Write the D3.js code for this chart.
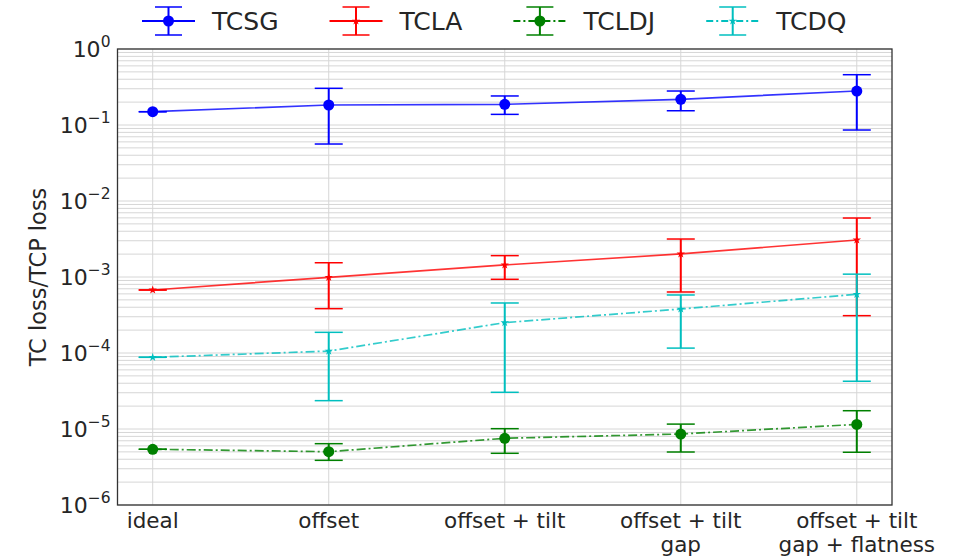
<!DOCTYPE html>
<html>
<head>
<meta charset="utf-8">
<script src="https://cdn.jsdelivr.net/npm/d3@7"></script>
<style>
  html, body { margin: 0; padding: 0; background: #fff; }
  svg { display: block; font-family: "DejaVu Sans", sans-serif; }
</style>
</head>
<body>
<svg id="chart" width="966" height="557"></svg>
<script>
// Scenarios along the x axis (multi-line labels)
const categories = [
  ["ideal"],
  ["offset"],
  ["offset + tilt"],
  ["offset + tilt", "gap"],
  ["offset + tilt", "gap + flatness"]
];

// Mean loss ratio per scenario, with lower / upper error bounds
const tcsgValues = [0.1496, 0.1833, 0.187, 0.218, 0.280];
const tcsgLow    = [0.1496, 0.0562, 0.138, 0.154, 0.0859];
const tcsgHigh   = [0.1496, 0.304, 0.241, 0.280, 0.459];

const tclaValues = [6.75e-4, 9.91e-4, 1.44e-3, 2.01e-3, 3.07e-3];
const tclaLow    = [6.75e-4, 3.83e-4, 9.33e-4, 6.35e-4, 3.10e-4];
const tclaHigh   = [6.75e-4, 1.54e-3, 1.91e-3, 3.16e-3, 5.97e-3];

const tcldjValues = [5.41e-6, 5.03e-6, 7.55e-6, 8.59e-6, 1.15e-5];
const tcldjLow    = [5.41e-6, 3.87e-6, 4.79e-6, 4.98e-6, 4.94e-6];
const tcldjHigh   = [5.41e-6, 6.41e-6, 1.01e-5, 1.16e-5, 1.74e-5];

const tcdqValues = [8.78e-5, 1.06e-4, 2.51e-4, 3.79e-4, 5.92e-4];
const tcdqLow    = [8.78e-5, 2.36e-5, 3.04e-5, 1.16e-4, 4.25e-5];
const tcdqHigh   = [8.78e-5, 1.87e-4, 4.55e-4, 5.80e-4, 1.09e-3];

const yTickExponents = [0, -1, -2, -3, -4, -5, -6];

const series = [
  { name: "TCSG",  color: "#0000ff", dash: null,      marker: "circle", values: tcsgValues,  low: tcsgLow,  high: tcsgHigh },
  { name: "TCLA",  color: "#ff0000", dash: null,      marker: "star",   values: tclaValues,  low: tclaLow,  high: tclaHigh },
  { name: "TCLDJ", color: "#008000", dash: "9,3,2,3", marker: "circle", values: tcldjValues, low: tcldjLow, high: tcldjHigh },
  { name: "TCDQ",  color: "#00bfbf", dash: "9,3,2,3", marker: "star",   values: tcdqValues,  low: tcdqLow,  high: tcdqHigh }
];

const svg = d3.select("#chart");
const plot = { left: 117.5, right: 892, top: 49, bottom: 505 };
const textColor = "#262626";

const x = d3.scaleLinear().domain([-0.2, categories.length - 1 + 0.2]).range([plot.left, plot.right]);
const y = d3.scaleLog().domain([1e-6, 1]).range([plot.bottom, plot.top]);

const gridColor = "#d6d6d6";

// Minor + major horizontal grid
const grid = svg.append("g");
const minorTicks = [];
for (let e = -6; e < 0; e++) {
  for (let m = 2; m <= 9; m++) minorTicks.push(m * Math.pow(10, e));
}
grid.selectAll("line.minor").data(minorTicks).join("line")
  .attr("x1", plot.left).attr("x2", plot.right)
  .attr("y1", d => y(d)).attr("y2", d => y(d))
  .attr("stroke", gridColor).attr("stroke-width", 1);
grid.selectAll("line.major").data(yTickExponents).join("line")
  .attr("x1", plot.left).attr("x2", plot.right)
  .attr("y1", d => y(Math.pow(10, d))).attr("y2", d => y(Math.pow(10, d)))
  .attr("stroke", gridColor).attr("stroke-width", 1);
// Vertical grid at each scenario
grid.selectAll("line.vx").data(d3.range(categories.length)).join("line")
  .attr("x1", d => x(d)).attr("x2", d => x(d))
  .attr("y1", plot.top).attr("y2", plot.bottom)
  .attr("stroke", gridColor).attr("stroke-width", 1);

// Series: lines, error bars, markers
const capHalf = 14;
function drawMarker(g, type, cx, cy, color) {
  if (type === "circle") {
    g.append("circle").attr("cx", cx).attr("cy", cy).attr("r", 5.5).attr("fill", color);
  } else {
    g.append("path")
      .attr("d", d3.symbol().type(d3.symbolStar).size(22)())
      .attr("transform", `translate(${cx},${cy})`)
      .attr("fill", color);
  }
}

series.forEach(s => {
  const g = svg.append("g");
  const line = d3.line().x((d, i) => x(i)).y(d => y(d));
  g.append("path")
    .attr("d", line(s.values))
    .attr("fill", "none")
    .attr("stroke", s.color)
    .attr("stroke-opacity", 0.8)
    .attr("stroke-width", 1.7)
    .attr("stroke-dasharray", s.dash);

  s.values.forEach((v, i) => {
    const cx = x(i);
    g.append("line")
      .attr("x1", cx).attr("x2", cx)
      .attr("y1", y(s.low[i])).attr("y2", y(s.high[i]))
      .attr("stroke", s.color).attr("stroke-width", 2);
    [s.low[i], s.high[i]].forEach(b => {
      g.append("line")
        .attr("x1", cx - capHalf).attr("x2", cx + capHalf)
        .attr("y1", y(b)).attr("y2", y(b))
        .attr("stroke", s.color).attr("stroke-width", 1.5);
    });
    drawMarker(g, s.marker, cx, y(v), s.color);
  });
});

// Frame
svg.append("rect")
  .attr("x", plot.left).attr("y", plot.top)
  .attr("width", plot.right - plot.left).attr("height", plot.bottom - plot.top)
  .attr("fill", "none").attr("stroke", "#333").attr("stroke-width", 1.3);

// Y tick labels as powers of ten
const yLabels = svg.append("g").attr("fill", textColor);
yTickExponents.forEach(e => {
  const t = yLabels.append("text")
    .attr("x", plot.left - 7)
    .attr("y", y(Math.pow(10, e)) + 8)
    .attr("text-anchor", "end")
    .attr("font-size", 22);
  t.append("tspan").text("10");
  t.append("tspan").attr("dy", -10).attr("font-size", 15.5)
    .text(e === 0 ? "0" : "\u2212" + Math.abs(e));
});

// X tick labels, one text element per line
const xLabels = svg.append("g").attr("fill", textColor);
categories.forEach((lines, i) => {
  lines.forEach((ln, k) => {
    xLabels.append("text")
      .attr("x", x(i)).attr("y", plot.bottom + 23 + k * 24)
      .attr("text-anchor", "middle").attr("font-size", 21.5)
      .text(ln);
  });
});

// Y axis title
svg.append("text")
  .attr("transform", `translate(46,${(plot.top + plot.bottom) / 2}) rotate(-90)`)
  .attr("text-anchor", "middle")
  .attr("font-size", 22.5)
  .attr("fill", textColor)
  .text("TC loss/TCP loss");

// Legend along the top, entries laid out left to right
const legend = svg.append("g");
let lx = 142;
const ly = 21;
series.forEach(s => {
  const g = legend.append("g");
  g.append("line").attr("x1", lx).attr("x2", lx + 53).attr("y1", ly).attr("y2", ly)
    .attr("stroke", s.color).attr("stroke-width", 1.8)
    .attr("stroke-dasharray", s.dash ? "7,3,2,3" : null);
  g.append("line").attr("x1", lx + 26.5).attr("x2", lx + 26.5).attr("y1", ly - 14).attr("y2", ly + 14)
    .attr("stroke", s.color).attr("stroke-width", 2);
  [ly - 14, ly + 14].forEach(cy => {
    g.append("line").attr("x1", lx + 13).attr("x2", lx + 40).attr("y1", cy).attr("y2", cy)
      .attr("stroke", s.color).attr("stroke-width", 1.5);
  });
  drawMarker(g, s.marker, lx + 26.5, ly, s.color);
  const label = g.append("text").attr("x", lx + 70).attr("y", ly + 9)
    .attr("font-size", 25).attr("fill", textColor).text(s.name);
  lx = lx + 70 + label.node().getComputedTextLength() + 51;
});
</script>
</body>
</html>
